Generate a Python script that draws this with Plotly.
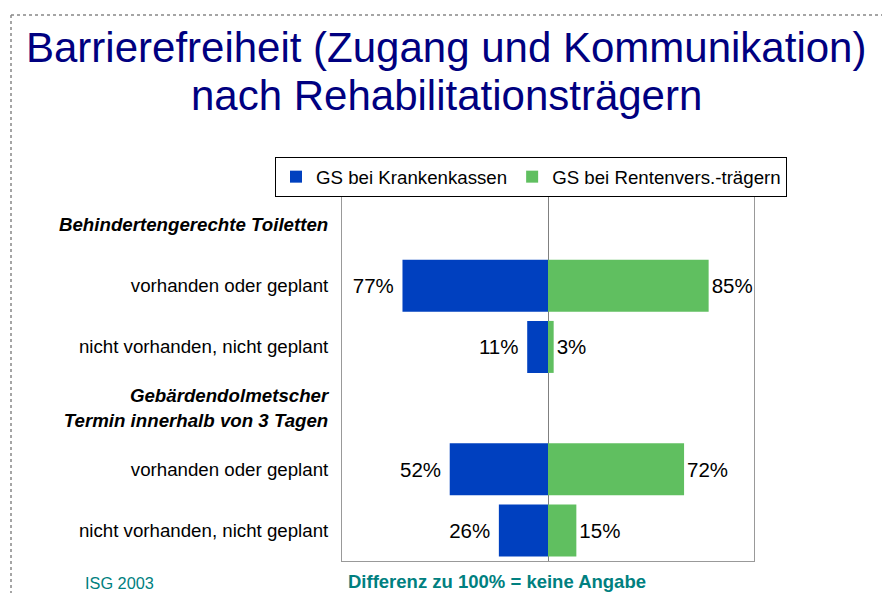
import plotly.graph_objects as go

# ---- data ----
categories = [
    "<b><i>Behindertengerechte Toiletten</i></b>",
    "vorhanden oder geplant",
    "nicht vorhanden, nicht geplant",
    "<b><i>Gebärdendolmetscher<br>Termin innerhalb von 3 Tagen</i></b>",
    "vorhanden oder geplant",
    "nicht vorhanden, nicht geplant",
]
bar_rows = [1, 2, 4, 5]          # category index of each bar row
krankenkassen = [77, 11, 52, 26]  # GS bei Krankenkassen (%)
rentenvers = [85, 3, 72, 15]      # GS bei Rentenvers.-trägern (%)
series_names = ["GS bei Krankenkassen", "GS bei Rentenvers.-trägern"]
title_lines = ["Barrierefreiheit (Zugang und Kommunikation)", "nach Rehabilitationsträgern"]

FONT = "Arial, Liberation Sans, sans-serif"
OFF = 8                      # page body margin
W, H = 890 - OFF, 593 - OFF
L, R, T, B = 342 - OFF, 890 - 754, 194 - OFF, 593 - 561
PW, PH = W - L - R, H - T - B


def px_x(x):
    """reference pixel x -> paper coordinate"""
    return (x - OFF - L) / PW


def px_y(y):
    """reference pixel y -> paper coordinate"""
    return 1 - (y - OFF - T) / PH


fig = go.Figure()
fig.add_trace(go.Bar(
    y=bar_rows, x=[-v for v in krankenkassen], orientation="h",
    name=series_names[0], marker=dict(color="#0040BF", line=dict(width=0)),
    text=[f"{v}% " for v in krankenkassen], textposition="outside",
    textfont=dict(size=20.5, color="black", family=FONT), cliponaxis=False,
))
fig.add_trace(go.Bar(
    y=bar_rows, x=rentenvers, orientation="h",
    name=series_names[1], marker=dict(color="#60BF60", line=dict(width=0)),
    text=[f"{v}%" for v in rentenvers], textposition="outside",
    textfont=dict(size=20.5, color="black", family=FONT), cliponaxis=False,
))

fig.update_layout(
    width=W, height=H,
    margin=dict(l=L, r=R, t=T, b=B, autoexpand=False),
    paper_bgcolor="white", plot_bgcolor="white",
    barmode="overlay", bargap=0.15,
    font=dict(family=FONT, color="black", size=18.7),
    showlegend=True,
    legend=dict(
        orientation="h", xref="paper", yref="paper",
        x=px_x(787), xanchor="right", y=px_y(157), yanchor="top",
        bordercolor="black", borderwidth=1, bgcolor="white",
        font=dict(size=18.7, family=FONT), itemwidth=30, tracegroupgap=0,
    ),
    xaxis=dict(
        range=[-109, 109], showticklabels=False, showgrid=False, ticks="",
        zeroline=True, zerolinecolor="#808080", zerolinewidth=1,
        showline=True, mirror=True, linecolor="#999999", linewidth=1, fixedrange=True,
    ),
    yaxis=dict(
        range=[5.5, -0.5], tickmode="array", tickvals=list(range(len(categories))),
        ticktext=categories, ticks="", ticklabelstandoff=9, showgrid=False,
        zeroline=False, showline=True, mirror=True, linecolor="#999999", linewidth=1,
        tickfont=dict(size=18.7, family=FONT, color="black"),
    ),
)

for line, yc in zip(title_lines, [47, 95]):
    fig.add_annotation(
        text=line, xref="paper", yref="paper", x=px_x(446), y=px_y(yc),
        xanchor="center", yanchor="middle", showarrow=False,
        font=dict(size=42, color="#000080", family=FONT),
    )

fig.add_annotation(
    text="ISG 2003", xref="paper", yref="paper", x=px_x(83), y=px_y(583),
    xanchor="left", yanchor="middle", showarrow=False,
    font=dict(size=16.3, color="#008080", family=FONT),
)
fig.add_annotation(
    text="<b>Differenz zu 100% = keine Angabe</b>", xref="paper", yref="paper",
    x=px_x(346), y=px_y(581), xanchor="left", yanchor="middle", showarrow=False,
    font=dict(size=18.5, color="#008080", family=FONT),
)

# slide's dotted frame
fig.add_shape(type="line", xref="paper", yref="paper", x0=px_x(11), x1=px_x(11),
              y0=px_y(15), y1=px_y(600), line=dict(color="#888888", width=1.5, dash="dot"))
fig.add_shape(type="line", xref="paper", yref="paper", x0=px_x(11), x1=px_x(900),
              y0=px_y(15), y1=px_y(15), line=dict(color="#888888", width=1.5, dash="dot"))

fig.write_html("out.html")
